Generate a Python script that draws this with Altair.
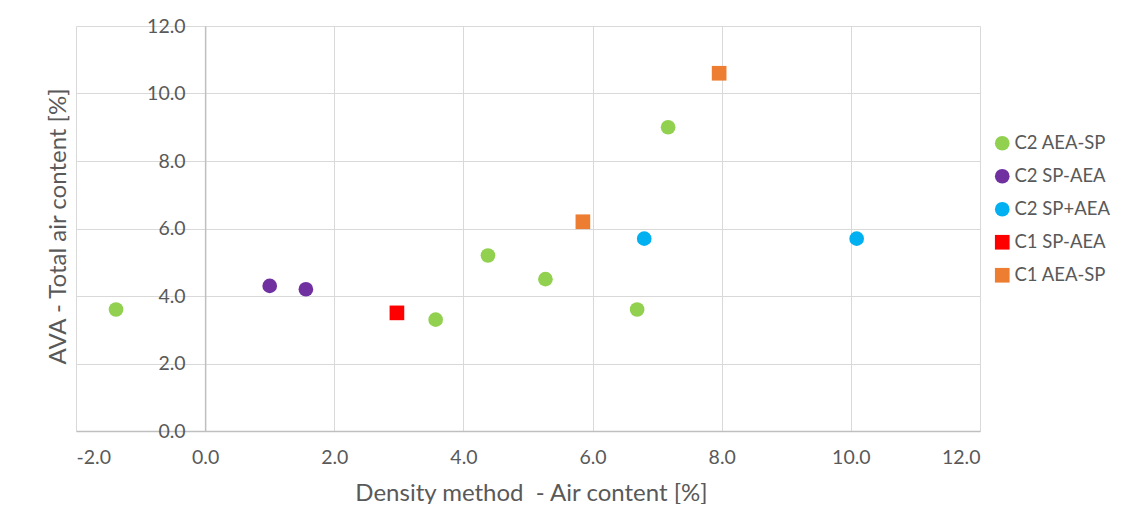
import altair as alt
import pandas as pd

series = ["C2 AEA-SP"] * 6 + ["C2 SP-AEA"] * 2 + ["C2 SP+AEA"] * 2 + ["C1 SP-AEA"] + ["C1 AEA-SP"] * 2
density_air = [-1.38, 3.57, 4.38, 5.27, 6.69, 7.17, 1.00, 1.56, 6.80, 10.09, 2.97, 5.85, 7.96]
ava_air = [3.6, 3.3, 5.2, 4.5, 3.6, 9.0, 4.3, 4.2, 5.7, 5.7, 3.5, 6.2, 10.6]

legend_order = ["C2 AEA-SP", "C2 SP-AEA", "C2 SP+AEA", "C1 SP-AEA", "C1 AEA-SP"]
colors = ["#92D050", "#7030A0", "#00B0F0", "#FF0000", "#ED7D31"]
shapes = ["circle", "circle", "circle", "square", "square"]
x_ticks = [-2, 0, 2, 4, 6, 8, 10, 12]
y_ticks = [0, 2, 4, 6, 8, 10, 12]

df = pd.DataFrame({"series": series, "x": density_air, "y": ava_air})

FONT = "Lato"
W, H = 904, 405
PAD_L, PAD_T = 68, 18
x_off = -W * 2 / 14  # y axis crosses at x = 0

label_expr = "replace(format(datum.value, '.1f'), '\u2212', '-')"

legend = alt.Legend(title=None, orient="none", legendX=917, legendY=108, padding=0)

chart = (
    alt.Chart(df)
    .mark_point(filled=True, opacity=1, size=215)
    .encode(
        x=alt.X(
            "x:Q",
            scale=alt.Scale(domain=[-2, 12], nice=False, zero=False),
            axis=alt.Axis(
                values=x_ticks,
                labelExpr=label_expr,
                title="Density method\u00a0 - Air content [%]",
                labelPadding=17,
                titleY=69,
                titleX=455,
                titleBaseline="alphabetic",
            ),
        ),
        y=alt.Y(
            "y:Q",
            scale=alt.Scale(domain=[0, 12], nice=False),
            axis=alt.Axis(
                values=y_ticks,
                labelExpr=label_expr,
                title="AVA - Total air content [%]",
                offset=x_off,
                labelPadding=20,
                titleX=-147,
                titleY=200,
                titleAlign="center",
                titleBaseline="middle",
            ),
        ),
        color=alt.Color(
            "series:N",
            scale=alt.Scale(domain=legend_order, range=colors),
            legend=legend,
        ),
        shape=alt.Shape(
            "series:N",
            scale=alt.Scale(domain=legend_order, range=shapes),
            legend=legend,
        ),
    )
    .properties(
        width=W,
        height=H,
        autosize=alt.AutoSizeParams(type="none"),
        padding={"left": PAD_L, "top": PAD_T, "right": 1116 - PAD_L - W, "bottom": 496 - PAD_T - H},
    )
    .configure_view(stroke=None)
    .configure_axis(
        grid=True,
        gridColor="#D9D9D9",
        gridWidth=1,
        domainColor="#BFBFBF",
        domainWidth=1.5,
        ticks=False,
        labelFont=FONT,
        labelFontSize=19.5,
        labelColor="#595959",
        titleFont=FONT,
        titleFontSize=24,
        titleFontWeight="normal",
        titleColor="#595959",
    )
    .configure_legend(
        labelFont=FONT,
        labelFontSize=18.5,
        labelColor="#595959",
        symbolSize=215,
        rowPadding=14,
        labelOffset=3,
        symbolStrokeWidth=0,
    )
)

chart.save("out.html", embed_options={"renderer": "svg", "actions": False})
